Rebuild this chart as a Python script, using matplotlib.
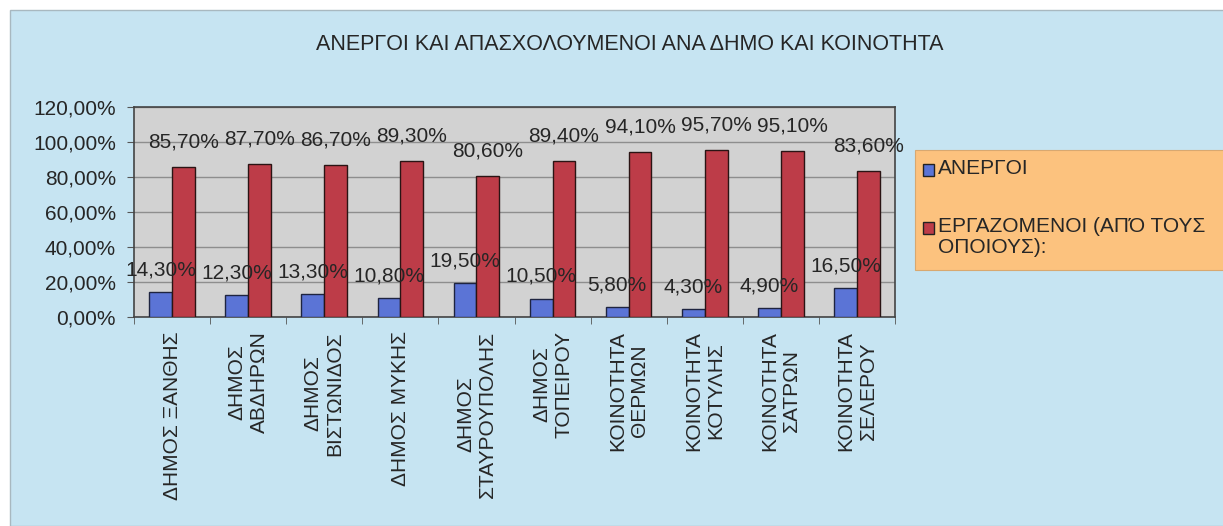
import matplotlib.pyplot as plt
import numpy as np
from matplotlib.patches import Rectangle

plt.rcParams['font.family'] = ['Liberation Sans', 'DejaVu Sans']

# data
categories = [
    "ΔΗΜΟΣ ΞΑΝΘΗΣ",
    "ΔΗΜΟΣ\nΑΒΔΗΡΩΝ",
    "ΔΗΜΟΣ\nΒΙΣΤΩΝΙΔΟΣ",
    "ΔΗΜΟΣ ΜΥΚΗΣ",
    "ΔΗΜΟΣ\nΣΤΑΥΡΟΥΠΟΛΗΣ",
    "ΔΗΜΟΣ\nΤΟΠΕΙΡΟΥ",
    "ΚΟΙΝΟΤΗΤΑ\nΘΕΡΜΩΝ",
    "ΚΟΙΝΟΤΗΤΑ\nΚΟΤΥΛΗΣ",
    "ΚΟΙΝΟΤΗΤΑ\nΣΑΤΡΩΝ",
    "ΚΟΙΝΟΤΗΤΑ\nΣΕΛΕΡΟΥ",
]
unemployed = [14.3, 12.3, 13.3, 10.8, 19.5, 10.5, 5.8, 4.3, 4.9, 16.5]
employed = [85.7, 87.7, 86.7, 89.3, 80.6, 89.4, 94.1, 95.7, 95.1, 83.6]
series_names = ["ΑΝΕΡΓΟΙ", "ΕΡΓΑΖΟΜΕΝΟΙ (ΑΠΌ ΤΟΥΣ\nΟΠΟΙΟΥΣ):"]
yticks = [0, 20, 40, 60, 80, 100, 120]
title = "ΑΝΕΡΓΟΙ ΚΑΙ ΑΠΑΣΧΟΛΟΥΜΕΝΟΙ ΑΝΑ ΔΗΜΟ ΚΑΙ ΚΟΙΝΟΤΗΤΑ"

BG = "#c6e4f2"
BLUE = "#5b74d6"
RED = "#bd3c48"
ORANGE = "#fcc27e"
TXT = "#262626"

def pct(v):
    return f"{v:.2f}%".replace(".", ",")

fig = plt.figure(figsize=(12.23, 5.26), dpi=100, facecolor="white")
# light blue chart area
fig.patches.append(Rectangle((10 / 1223, 0), 1.0, 1 - 10 / 526, transform=fig.transFigure,
                             facecolor=BG, edgecolor="#a8b8c0", linewidth=1.0, zorder=-10))

ax = fig.add_axes([134 / 1223, 1 - 317 / 526, (895 - 134) / 1223, (317 - 107) / 526])
ax.set_facecolor("#d2d2d2")

x = np.arange(len(categories))
w = 0.3
b1 = ax.bar(x - w / 2, unemployed, w, color=BLUE, edgecolor="#1e2440", linewidth=1.0, zorder=3)
b2 = ax.bar(x + w / 2, employed, w, color=RED, edgecolor="#2a1414", linewidth=1.0, zorder=5)

for rect, v in zip(b1, unemployed):
    ax.annotate(pct(v), (rect.get_x() + rect.get_width() / 2, v), xytext=(0, 16),
                textcoords="offset points", ha="center", va="center",
                fontsize=15, color=TXT, zorder=6)
for rect, v in zip(b2, employed):
    ax.annotate(pct(v), (rect.get_x() + rect.get_width() / 2, v), xytext=(0, 18),
                textcoords="offset points", ha="center", va="center",
                fontsize=15, color=TXT, zorder=6, annotation_clip=False)

ax.set_xlim(-0.5, len(categories) - 0.5)
ax.set_ylim(0, 120)
ax.set_yticks(yticks)
ax.set_yticklabels([pct(v) for v in yticks], fontsize=15, color=TXT)
ax.yaxis.grid(True, color="#8e8e8e", linewidth=1.0, zorder=1)
ax.set_axisbelow(True)

ax.set_xticks(x)
ax.set_xticklabels(categories, rotation=90, fontsize=15, color=TXT,
                   linespacing=1.2, multialignment="center")
ax.set_xticks(np.arange(len(categories) + 1) - 0.5, minor=True)
ax.tick_params(axis="x", which="major", length=0, pad=10)
ax.tick_params(axis="x", which="minor", length=5, color="#555555")
ax.tick_params(axis="y", length=5, pad=8, color="#555555")

for s in ax.spines.values():
    s.set_color("#444444")
    s.set_linewidth(1.2)

fig.text(630 / 1223, 1 - 45 / 526, title, ha="center", va="center", fontsize=15.5, color=TXT)

# legend box
fig.patches.append(Rectangle((915 / 1223, 1 - 270 / 526), 1.0, (270 - 150) / 526,
                             transform=fig.transFigure, facecolor=ORANGE,
                             edgecolor="#d8a870", linewidth=0.8, zorder=1))
for color, name, yc in zip([BLUE, RED], series_names, [170, 228]):
    fig.patches.append(Rectangle((923 / 1223, 1 - (yc + 6) / 526), 11 / 1223, 12 / 526,
                                 transform=fig.transFigure, facecolor=color,
                                 edgecolor="#222222", linewidth=1.0, zorder=2))
    fig.text(938 / 1223, 1 - (yc - 11) / 526, name, ha="left", va="top",
             fontsize=15, color=TXT, linespacing=1.15, zorder=3)

fig.savefig("out.png", dpi=100)
